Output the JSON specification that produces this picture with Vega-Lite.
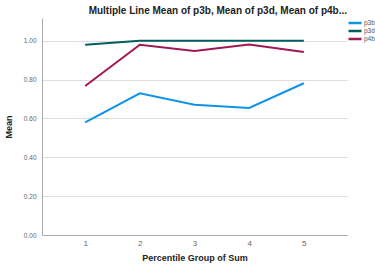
{
  "$schema": "https://vega.github.io/schema/vega-lite/v6.json",
  "width": 305,
  "height": 217,
  "autosize": "none",
  "padding": {"left": 42, "top": 18, "right": 28, "bottom": 35},
  "background": "white",
  "title": {
    "text": "Multiple Line Mean of p3b, Mean of p3d, Mean of p4b...",
    "anchor": "end",
    "frame": "group",
    "font": "Liberation Sans",
    "fontSize": 10,
    "fontWeight": "bold",
    "color": "#222222",
    "offset": 2
  },
  "data": {
    "values": [
      {"group": 1, "series": "p3b", "mean": 0.58},
      {"group": 2, "series": "p3b", "mean": 0.729},
      {"group": 3, "series": "p3b", "mean": 0.67},
      {"group": 4, "series": "p3b", "mean": 0.654},
      {"group": 5, "series": "p3b", "mean": 0.781},
      {"group": 1, "series": "p3d", "mean": 0.979},
      {"group": 2, "series": "p3d", "mean": 1.0},
      {"group": 3, "series": "p3d", "mean": 1.0},
      {"group": 4, "series": "p3d", "mean": 1.0},
      {"group": 5, "series": "p3d", "mean": 1.0},
      {"group": 1, "series": "p4b", "mean": 0.767},
      {"group": 2, "series": "p4b", "mean": 0.979},
      {"group": 3, "series": "p4b", "mean": 0.947},
      {"group": 4, "series": "p4b", "mean": 0.981},
      {"group": 5, "series": "p4b", "mean": 0.942}
    ]
  },
  "mark": {"type": "line", "strokeWidth": 2},
  "encoding": {
    "x": {
      "field": "group",
      "type": "ordinal",
      "title": "Percentile Group of Sum",
      "scale": {"type": "point", "padding": 0.79},
      "axis": {
        "labelAngle": 0,
        "labelFont": "Liberation Sans",
        "labelFontSize": 8,
        "labelColor": "#666666",
        "labelPadding": 4,
        "ticks": false,
        "grid": false,
        "domainColor": "#aaaaaa",
        "titleFont": "Liberation Sans",
        "titleFontSize": 9,
        "titleFontWeight": "bold",
        "titleColor": "#222222",
        "titlePadding": 6
      }
    },
    "y": {
      "field": "mean",
      "type": "quantitative",
      "title": "Mean",
      "scale": {"domain": [0, 1.117], "nice": false},
      "axis": {
        "values": [0, 0.2, 0.4, 0.6, 0.8, 1.0],
        "format": ".2f",
        "labelFont": "Liberation Sans",
        "labelFontSize": 6.5,
        "labelColor": "#666666",
        "labelPadding": 6,
        "ticks": false,
        "grid": true,
        "gridColor": "#dddddd",
        "domainColor": "#aaaaaa",
        "titleFont": "Liberation Sans",
        "titleFontSize": 9,
        "titleFontWeight": "bold",
        "titleColor": "#222222",
        "titlePadding": 10
      }
    },
    "color": {
      "field": "series",
      "type": "nominal",
      "scale": {"domain": ["p3b", "p3d", "p4b"], "range": ["#1192e8", "#005d5d", "#9f1853"]},
      "legend": {
        "title": null,
        "orient": "none",
        "legendX": 305,
        "legendY": 1,
        "symbolType": "stroke",
        "symbolSize": 169,
        "symbolStrokeWidth": 2.5,
        "clipHeight": 8,
        "labelFont": "Liberation Sans",
        "labelFontSize": 6.5,
        "labelColor": "#555555",
        "labelOffset": 1,
        "rowPadding": 0,
        "padding": 0
      }
    }
  },
  "config": {"view": {"stroke": null}}
}
